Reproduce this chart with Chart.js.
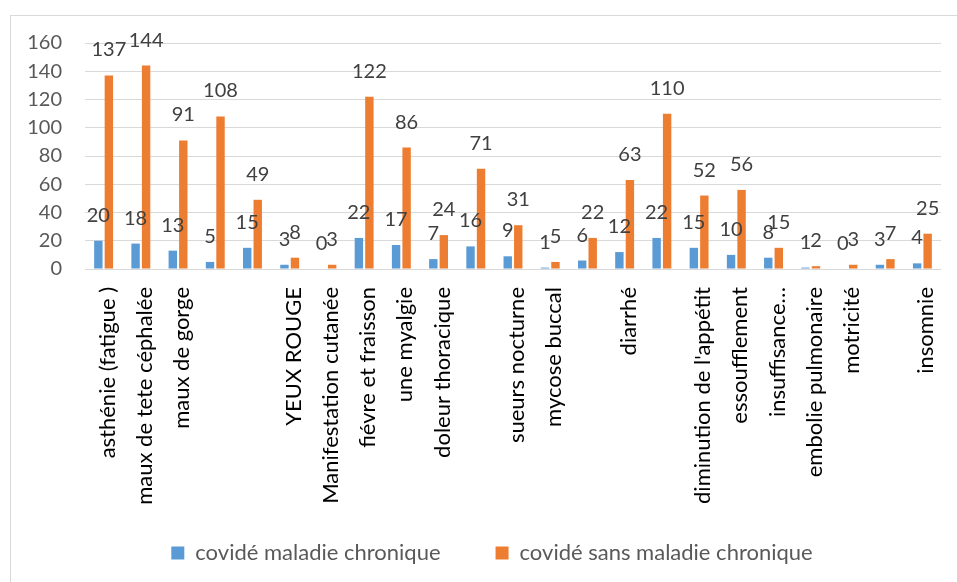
<!DOCTYPE html>
<html lang="fr">
<head>
<meta charset="utf-8">
<script src="https://cdn.jsdelivr.net/npm/chart.js@4.4.1/dist/chart.umd.min.js"></script>
<style>
  html, body { margin: 0; padding: 0; background: #fff; overflow: hidden; }
  #wrap { position: relative; width: 957px; height: 582px; }
  #frame { position: absolute; left: 10px; top: 15px; width: 960px; height: 580px;
           border: 1px solid #d9d9d9; box-sizing: border-box; }
  #chart { position: absolute; left: 0; top: 0; }
</style>
</head>
<body>
<div id="wrap">
  <div id="frame"></div>
  <canvas id="chart" width="957" height="582"></canvas>
</div>
<script>
// Symptômes relevés, deux groupes de patients covid
const categories = [
  "asthénie (fatigue )", "maux de tete céphalée", "maux de gorge", "", "",
  "YEUX ROUGE", "Manifestation cutanée", "fiévre et fraisson", "une myalgie",
  "doleur thoracique", "", "sueurs nocturne", "mycose buccal", "", "diarrhé",
  "", "diminution de l'appétit", "essoufflement", "insuffisance…",
  "embolie pulmonaire", "motricité", "", "insomnie"
];
const avecMaladieChronique = [20, 18, 13, 5, 15, 3, 0, 22, 17, 7, 16, 9, 1, 6, 12, 22, 15, 10, 8, 1, 0, 3, 4];
const sansMaladieChronique = [137, 144, 91, 108, 49, 8, 3, 122, 86, 24, 71, 31, 5, 22, 63, 110, 52, 56, 15, 2, 3, 7, 25];
const seriesNames = ["covidé maladie chronique", "covidé sans maladie chronique"];
const yTicks = [0, 20, 40, 60, 80, 100, 120, 140, 160];

const FONT = "Lato";

// Valeurs écrites au-dessus de chaque barre
const valueLabels = {
  id: "valueLabels",
  afterDatasetsDraw(chart) {
    const ctx = chart.ctx;
    ctx.save();
    ctx.font = "20px " + FONT;
    ctx.fillStyle = "#404040";
    ctx.textAlign = "center";
    ctx.textBaseline = "alphabetic";
    chart.data.datasets.forEach((ds, i) => {
      const meta = chart.getDatasetMeta(i);
      meta.data.forEach((bar, j) => {
        ctx.fillText(String(ds.data[j]), bar.x, bar.y - 19);
      });
    });
    ctx.restore();
  }
};

// Libellés verticaux des catégories, posés sous l'axe x sans rognage
const categoryLabels = {
  id: "categoryLabels",
  afterDraw(chart) {
    const xs = chart.scales.x;
    const ctx = chart.ctx;
    ctx.save();
    ctx.font = "22px " + FONT;
    ctx.fillStyle = "#000";
    ctx.textAlign = "right";
    ctx.textBaseline = "middle";
    chart.data.labels.forEach((label, i) => {
      if (!label) return;
      ctx.save();
      ctx.translate(xs.getPixelForValue(i) + 4, xs.top + 18);
      ctx.rotate(-Math.PI / 2);
      ctx.fillText(label, 0, 0);
      ctx.restore();
    });
    ctx.restore();
  }
};

// Légende recentrée sous le graphique
const legendShift = {
  id: "legendShift",
  afterLayout(chart) {
    const lg = chart.legend;
    if (lg) { lg.left += 43; lg.width -= 43; }
  }
};

new Chart(document.getElementById("chart"), {
  type: "bar",
  data: {
    labels: categories,
    datasets: [
      { label: seriesNames[0], data: avecMaladieChronique, backgroundColor: "#5B9BD5",
        categoryPercentage: 0.565, barPercentage: 0.8 },
      { label: seriesNames[1], data: sansMaladieChronique, backgroundColor: "#ED7D31",
        categoryPercentage: 0.565, barPercentage: 0.8 }
    ]
  },
  options: {
    responsive: false,
    animation: false,
    layout: { padding: { left: 0, top: 43, right: 16, bottom: 8 } },
    plugins: {
      legend: {
        position: "bottom",
        labels: {
          font: { family: FONT, size: 22 },
          color: "#595959",
          boxWidth: 13,
          boxHeight: 13,
          padding: 55
        }
      },
      tooltip: { enabled: false }
    },
    scales: {
      x: {
        grid: { display: false, drawTicks: false },
        border: { display: false },
        ticks: { display: false },
        afterFit(scale) { scale.height = 218; }
      },
      y: {
        min: 0,
        max: 160,
        afterBuildTicks(scale) { scale.ticks = yTicks.map(v => ({ value: v })); },
        grid: { color: "#d9d9d9", lineWidth: 1, drawTicks: false },
        border: { display: false },
        ticks: {
          padding: 23,
          color: "#595959",
          font: { family: FONT, size: 20 }
        },
        afterFit(scale) { scale.width = 85; }
      }
    }
  },
  plugins: [valueLabels, categoryLabels, legendShift]
});
</script>
</body>
</html>
